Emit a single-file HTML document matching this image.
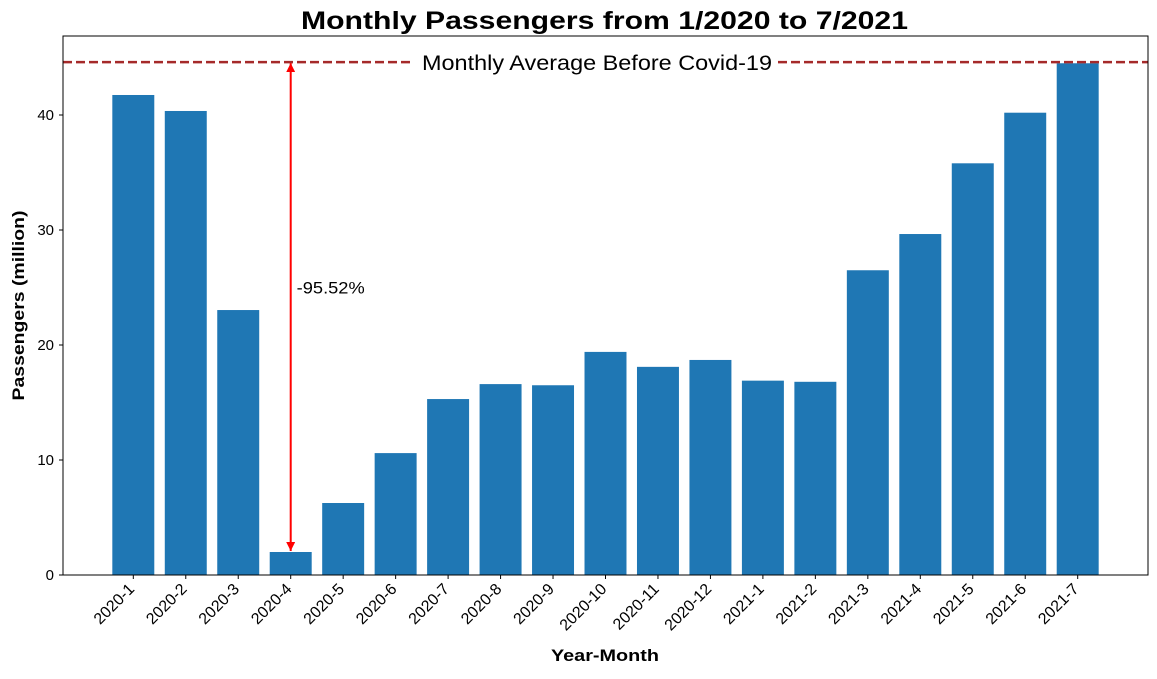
<!DOCTYPE html>
<html><head><meta charset="utf-8"><style>
body{margin:0;background:#fff;}
svg{font-family:"Liberation Sans","DejaVu Sans",sans-serif;}
</style></head><body>
<svg id="chart" width="1157" height="674" viewBox="0 0 1157 674"></svg>
<script>
const categories=["2020-1","2020-2","2020-3","2020-4","2020-5","2020-6","2020-7","2020-8","2020-9","2020-10","2020-11","2020-12","2021-1","2021-2","2021-3","2021-4","2021-5","2021-6","2021-7"];
const passengers=[41.74,40.35,23.04,2.0,6.26,10.6,15.3,16.6,16.5,19.4,18.1,18.7,16.9,16.8,26.5,29.65,35.8,40.2,44.5];
const yTicks=[0,10,20,30,40];
const avgBefore=44.6;
const dropLabel="-95.52%";
const dropIndex=3;

const NS="http://www.w3.org/2000/svg";
const svg=document.getElementById('chart');
const L=63,R=1148,T=36,B=575;
const xMin=-1.34,xMax=19.34,yMin=0,yMax=46.87;
const xs=v=>L+(v-xMin)/(xMax-xMin)*(R-L);
const ys=v=>B-(v-yMin)/(yMax-yMin)*(B-T);
function el(tag,attrs,text){const e=document.createElementNS(NS,tag);for(const k in attrs)e.setAttribute(k,attrs[k]);if(text!==undefined)e.textContent=text;svg.appendChild(e);return e;}

const defs=document.createElementNS(NS,'defs');
defs.innerHTML='<marker id="ah" viewBox="0 0 10 10" refX="10" refY="5" markerWidth="4.5" markerHeight="4.5" orient="auto-start-reverse"><path d="M0,0 L10,5 L0,10 z" fill="red"/></marker>';
svg.appendChild(defs);

const bw=(xs(1)-xs(0))*0.8;
categories.forEach((c,i)=>{
  const b=el('rect',{x:xs(i)-bw/2,y:ys(passengers[i]),width:bw,height:ys(0)-ys(passengers[i]),fill:'#1f77b4'});
  
  
  const t=el('line',{x1:xs(i),x2:xs(i),y1:B,y2:B+4,stroke:'#000'});
  
  
  const lx=xs(i)+2,ly=B+15;
  const lb=el('text',{x:lx,y:ly,'font-size':16,'text-anchor':'end',transform:`rotate(-45 ${lx} ${ly})`},c);
  
  
});
yTicks.forEach(v=>{
  const t=el('line',{x1:L-4,x2:L,y1:ys(v),y2:ys(v),stroke:'#000'});
  
  
  const lb=el('text',{x:L-9,y:ys(v)+5,'font-size':15,'text-anchor':'end'},v);
  
  
});
const al=el('line',{x1:L,x2:R,y1:ys(avgBefore),y2:ys(avgBefore),stroke:'#a52a2a','stroke-width':2.5,'stroke-dasharray':'9,4'});


const bg=el('rect',{x:414,y:ys(avgBefore)-12,width:364,height:24,fill:'#fff'});


const at=el('text',{x:422,y:ys(avgBefore)+8,'font-size':21,textLength:350,lengthAdjust:'spacingAndGlyphs'},'Monthly Average Before Covid-19');


const ar=el('line',{x1:xs(dropIndex),x2:xs(dropIndex),y1:ys(passengers[dropIndex])-1,y2:ys(avgBefore)+1,stroke:'red','stroke-width':2,'marker-start':'url(#ah)','marker-end':'url(#ah)'});


const dt=el('text',{x:xs(dropIndex)+6,y:ys(25)+6,'font-size':17,textLength:68,lengthAdjust:'spacingAndGlyphs'},dropLabel);


const fr=el('rect',{x:L,y:T,width:R-L,height:B-T,fill:'none',stroke:'#000','stroke-width':1});


const ti=el('text',{x:301,y:29,'font-size':25,'font-weight':'bold',textLength:607,lengthAdjust:'spacingAndGlyphs'},'Monthly Passengers from 1/2020 to 7/2021');


const xt=el('text',{x:551,y:661,'font-size':17,'font-weight':'bold',textLength:108,lengthAdjust:'spacingAndGlyphs'},'Year-Month');


const yt=el('text',{x:24,y:(T+B)/2,'font-size':17,'font-weight':'bold','text-anchor':'middle',textLength:190,lengthAdjust:'spacingAndGlyphs',transform:`rotate(-90 24 ${(T+B)/2})`},'Passengers (million)');


</script>
</body></html>
